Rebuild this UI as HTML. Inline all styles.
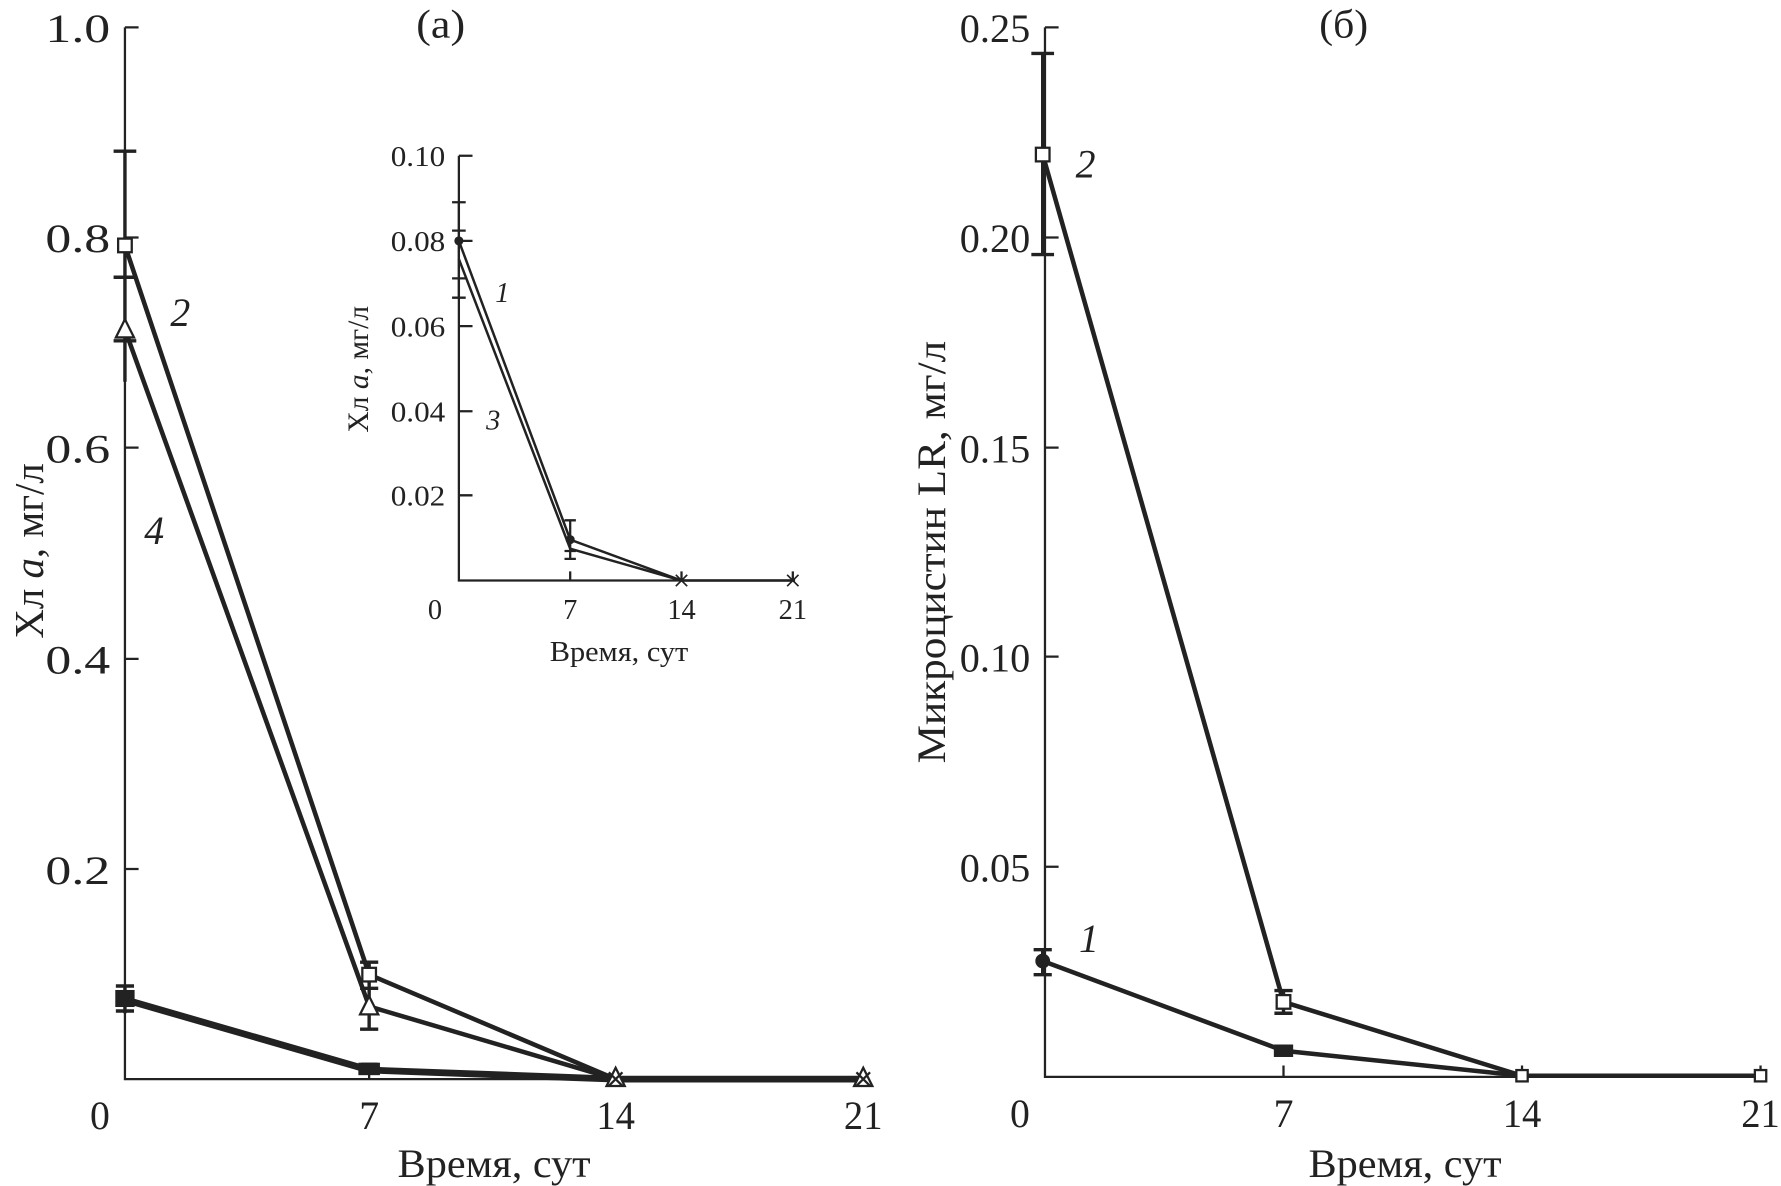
<!DOCTYPE html>
<html><head><meta charset="utf-8"><style>html,body{margin:0;padding:0;background:#fff}svg{display:block}</style></head>
<body>
<svg width="1781" height="1186" viewBox="0 0 1568 1044" xmlns="http://www.w3.org/2000/svg" font-family="'Liberation Serif', serif" fill="#222">
<rect width="1568" height="1044" fill="#fff"/>
<g stroke="#222" fill="none">
<path d="M110 24 V950 H762" stroke-width="2"/>
<path d="M110 24 h12 M110 209 h12 M110 394 h12 M110 580 h12 M110 765 h12 M325 950 v-10 M542 950 v-10 M760 950 v-10" stroke-width="2"/>
<polyline points="110,216 325,858 542,950 760,950" stroke-width="4"/>
<polyline points="110,290 325,886 542,950" stroke-width="4"/>
<polyline points="110,880 325,942 542,950 760,950" stroke-width="6"/>
<path d="M110 133 V336 M100 133 h20 M100 244 h20 M100 300 h20 M325 847 V906 M317 847 h16 M317 870 h16 M317 906 h16 M110 868 V892 M102 868 h16 M102 890 h16 M325 936 V946 M318 937 h14" stroke-width="3"/>
<rect x="104" y="210" width="12" height="12" fill="#fff" stroke-width="2"/>
<path d="M110 281 L118 297 H102 Z" fill="#fff" stroke-width="2"/>
<rect x="319" y="852" width="12" height="12" fill="#fff" stroke-width="2"/>
<path d="M325 877 L333 893 H317 Z" fill="#fff" stroke-width="2"/>
<path d="M542 940 L550 956 H534 Z" fill="#fff" stroke-width="2"/>
<path d="M760 940 L768 956 H752 Z" fill="#fff" stroke-width="2"/>
<path d="M536 944 l12 12 M548 944 l-12 12 M754 944 l12 12 M766 944 l-12 12" stroke-width="2"/>
<rect x="316" y="936" width="18" height="10" fill="#222" stroke-width="1"/>
<rect x="102" y="872" width="16" height="14" fill="#222" stroke-width="1"/>
<!-- inset -->
<path d="M404 137 V511 H700" stroke-width="2"/>
<path d="M404 137 h12 M404 212 h12 M404 287 h12 M404 362 h12 M404 436 h12 M502 511 v-8 M600 511 v-8 M698 511 v-8" stroke-width="2"/>
<polyline points="404,212 502,475 600,511 698,511" stroke-width="2.2"/>
<polyline points="404,228 502,483 600,511" stroke-width="2.2"/>
<path d="M404 178 V262 M398 178 h12 M398 203 h12 M398 245 h12 M398 262 h12 M502 458 V492 M497 458 h10 M497 485 h10 M497 492 h10" stroke-width="2"/>
<path d="M595 506 l10 10 M605 506 l-10 10 M693 506 l10 10 M703 506 l-10 10" stroke-width="1.5"/>
<circle cx="404" cy="212" r="3.5" fill="#222"/>
<circle cx="502" cy="475" r="3.5" fill="#222"/>
<!-- Panel b -->
<path d="M920 24 V948 H1555" stroke-width="2"/>
<path d="M920 24 h12 M920 209 h12 M920 394 h12 M920 578 h12 M920 763 h12 M1130 948 v-10 M1340 948 v-10 M1550 948 v-10" stroke-width="2"/>
<polyline points="918,136 1130,882 1340,947 1550,947" stroke-width="4"/>
<polyline points="918,846 1130,925 1340,947" stroke-width="4"/>
<path d="M918 47 V224 M908 47 h20 M908 224 h20 M1130 872 V892 M1122 872 h16 M1122 892 h16 M918 836 V858 M910 836 h16 M910 858 h16" stroke-width="3"/>
<rect x="912" y="130" width="12" height="12" fill="#fff" stroke-width="2"/>
<rect x="1124" y="876" width="12" height="12" fill="#fff" stroke-width="2"/>
<rect x="1335" y="942" width="10" height="10" fill="#fff" stroke-width="2"/>
<rect x="1545" y="942" width="10" height="10" fill="#fff" stroke-width="2"/>
<circle cx="918" cy="846" r="6" fill="#222"/>
<rect x="1122" y="920" width="16" height="10" fill="#222" stroke-width="1"/>
</g>
<g font-size="35">
<g text-anchor="end">
<text x="97" y="37" textLength="57" lengthAdjust="spacingAndGlyphs">1.0</text><text x="97" y="222" textLength="57" lengthAdjust="spacingAndGlyphs">0.8</text><text x="97" y="407" textLength="57" lengthAdjust="spacingAndGlyphs">0.6</text><text x="97" y="593" textLength="57" lengthAdjust="spacingAndGlyphs">0.4</text><text x="97" y="778" textLength="57" lengthAdjust="spacingAndGlyphs">0.2</text>
<text x="907" y="37" textLength="62" lengthAdjust="spacingAndGlyphs">0.25</text><text x="907" y="222" textLength="62" lengthAdjust="spacingAndGlyphs">0.20</text><text x="907" y="407" textLength="62" lengthAdjust="spacingAndGlyphs">0.15</text><text x="907" y="591" textLength="62" lengthAdjust="spacingAndGlyphs">0.10</text><text x="907" y="776" textLength="62" lengthAdjust="spacingAndGlyphs">0.05</text>
</g>
<g text-anchor="middle">
<text x="88" y="994">0</text><text x="325" y="994">7</text><text x="542" y="994" textLength="34" lengthAdjust="spacingAndGlyphs">14</text><text x="760" y="994" textLength="34" lengthAdjust="spacingAndGlyphs">21</text>
<text x="898" y="992">0</text><text x="1130" y="992">7</text><text x="1340" y="992" textLength="34" lengthAdjust="spacingAndGlyphs">14</text><text x="1550" y="992" textLength="34" lengthAdjust="spacingAndGlyphs">21</text>
<text x="435" y="1036" textLength="170" lengthAdjust="spacingAndGlyphs">Время, сут</text><text x="1237" y="1036" textLength="170" lengthAdjust="spacingAndGlyphs">Время, сут</text>
<text x="388" y="33" textLength="43" lengthAdjust="spacingAndGlyphs">(a)</text><text x="1183" y="33" textLength="43" lengthAdjust="spacingAndGlyphs">(б)</text>
</g>
<text transform="translate(38,485) rotate(-90)" text-anchor="middle" font-size="36">Хл <tspan font-style="italic">a</tspan>, мг/л</text>
<text transform="translate(832,486) rotate(-90)" text-anchor="middle" textLength="372" lengthAdjust="spacingAndGlyphs">Микроцистин LR, мг/л</text>
<g font-style="italic">
<text x="150" y="287">2</text><text x="127" y="479">4</text>
<text x="947" y="156">2</text><text x="950" y="838">1</text>
</g>
</g>
<g font-size="25">
<g text-anchor="end">
<text x="392" y="146" textLength="48" lengthAdjust="spacingAndGlyphs">0.10</text><text x="392" y="221" textLength="48" lengthAdjust="spacingAndGlyphs">0.08</text><text x="392" y="296" textLength="48" lengthAdjust="spacingAndGlyphs">0.06</text><text x="392" y="371" textLength="48" lengthAdjust="spacingAndGlyphs">0.04</text><text x="392" y="445" textLength="48" lengthAdjust="spacingAndGlyphs">0.02</text>
</g>
<g text-anchor="middle">
<text x="383" y="545">0</text><text x="502" y="545">7</text><text x="600" y="545">14</text><text x="698" y="545">21</text>
<text x="545" y="582" textLength="122" lengthAdjust="spacingAndGlyphs">Время, сут</text>
</g>
<text transform="translate(324,325) rotate(-90)" text-anchor="middle" font-size="26">Хл <tspan font-style="italic">a</tspan>, мг/л</text>
<g font-style="italic"><text x="436" y="266">1</text><text x="428" y="378">3</text></g>
</g>
</svg>
</body></html>
